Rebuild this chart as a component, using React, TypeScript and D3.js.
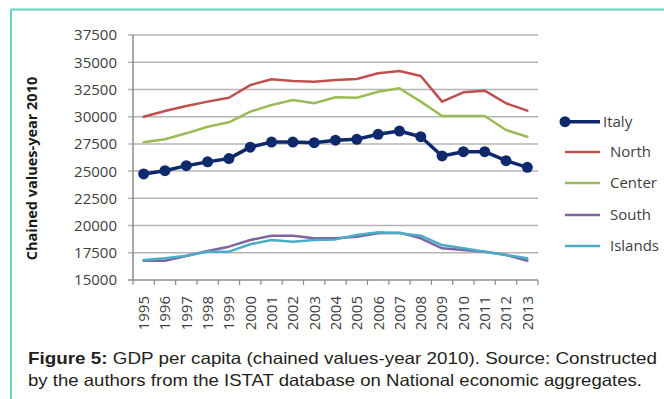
import React from "react";
import * as d3 from "d3";

// GDP per capita, chained values (reference year 2010)
const years = [
  "1995", "1996", "1997", "1998", "1999", "2000", "2001", "2002", "2003", "2004",
  "2005", "2006", "2007", "2008", "2009", "2010", "2011", "2012", "2013",
];
const italy = [24740, 25040, 25500, 25850, 26150, 27200, 27670, 27670, 27610, 27840, 27920, 28380, 28680, 28160, 26390, 26780, 26780, 25960, 25350];
const north = [30000, 30520, 30980, 31380, 31740, 32900, 33430, 33280, 33200, 33370, 33460, 33980, 34190, 33740, 31380, 32240, 32390, 31230, 30550];
const center = [27650, 27920, 28470, 29080, 29480, 30460, 31070, 31530, 31230, 31780, 31740, 32290, 32610, 31380, 30060, 30060, 30060, 28780, 28160];
const south = [16770, 16770, 17200, 17660, 18060, 18670, 19070, 19070, 18830, 18830, 18980, 19290, 19350, 18830, 17910, 17760, 17600, 17300, 16770];
const islands = [16840, 16990, 17230, 17600, 17600, 18280, 18670, 18520, 18670, 18730, 19130, 19380, 19290, 19070, 18210, 17910, 17600, 17300, 16990];
const yTicks = [15000, 17500, 20000, 22500, 25000, 27500, 30000, 32500, 35000, 37500];

const seriesNames = ["Italy", "North", "Center", "South", "Islands"];
const seriesValues = [italy, north, center, south, islands];
const seriesColors = ["#0f2a6c", "#c0504d", "#9bbb59", "#8064a2", "#4bacc6"];

const W = 664;
const H = 399;
const plot = { left: 133, right: 538, top: 35, bottom: 280 };
const tickFont = "'Open Sans', sans-serif";
const captionFont = "'Liberation Sans', Arial, sans-serif";

export default function App() {
  const x = d3.scaleBand<string>().domain(years).range([plot.left, plot.right]).paddingInner(0).paddingOuter(0);
  const y = d3.scaleLinear().domain([15000, 37500]).range([plot.bottom, plot.top]);
  const cx = (i: number) => (x(years[i]) as number) + x.bandwidth() / 2;
  const line = d3
    .line<number>()
    .x((_, i) => cx(i))
    .y((v) => y(v))
    .curve(d3.curveLinear);

  const boundaries = years.map((yr) => x(yr) as number).concat([plot.right]);

  const legendRows = [121.7, 152, 183, 215, 246];
  const legendTextX = [603, 610, 610, 610, 610];

  return (
    <svg
      width={W}
      height={H}
      style={{ position: "absolute", left: 0, top: 0, background: "#ffffff" }}
    >
      {/* frame */}
      <line x1={11} y1={9.5} x2={W} y2={9.5} stroke="#62d2c3" strokeWidth={2} />
      <line x1={11} y1={9.5} x2={11} y2={H} stroke="#62d2c3" strokeWidth={2} />

      {/* gridlines */}
      {yTicks.map((t) => (
        <line
          key={"g" + t}
          x1={plot.left - 5}
          x2={plot.right}
          y1={y(t)}
          y2={y(t)}
          stroke={t === 15000 ? "#8c8c8c" : "#b4b4b4"}
          strokeWidth={1.5}
        />
      ))}
      {/* y axis */}
      <line x1={plot.left} x2={plot.left} y1={plot.top} y2={plot.bottom} stroke="#8c8c8c" strokeWidth={1.5} />
      {yTicks.map((t) => (
        <text
          key={"yl" + t}
          x={117}
          y={y(t)}
          dy="0.36em"
          textAnchor="end"
          fontFamily={tickFont}
          fontSize={15}
          fill="#404040"
        >
          {t}
        </text>
      ))}
      {/* x axis ticks and labels */}
      {boundaries.map((bx, i) => (
        <line key={"xt" + i} x1={bx} x2={bx} y1={plot.bottom} y2={plot.bottom + 5} stroke="#8c8c8c" strokeWidth={1.2} />
      ))}
      {years.map((yr, i) => (
        <text
          key={"xl" + yr}
          transform={`translate(${cx(i)},${296}) rotate(-90)`}
          dy="0.36em"
          textAnchor="end"
          fontFamily={tickFont}
          fontSize={15}
          fill="#404040"
        >
          {yr}
        </text>
      ))}

      {/* axis title */}
      <text
        transform={`translate(32,${168.5}) rotate(-90)`}
        dy="0.36em"
        textAnchor="middle"
        fontFamily={tickFont}
        fontWeight="bold"
        fontSize={14.5}
        fill="#1a1a1a"
      >
        Chained values-year 2010
      </text>

      {/* series */}
      {seriesValues.map((vals, k) => (
        <path
          key={"s" + k}
          d={line(vals) || ""}
          fill="none"
          stroke={seriesColors[k]}
          strokeWidth={k === 0 ? 3.5 : 2.5}
          strokeLinejoin="round"
          strokeLinecap="round"
        />
      ))}
      {italy.map((v, i) => (
        <circle key={"m" + i} cx={cx(i)} cy={y(v)} r={5.5} fill={seriesColors[0]} />
      ))}

      {/* legend */}
      {seriesNames.map((name, k) => (
        <g key={"lg" + name}>
          <line
            x1={565}
            x2={600}
            y1={legendRows[k]}
            y2={legendRows[k]}
            stroke={seriesColors[k]}
            strokeWidth={k === 0 ? 3.5 : 2.5}
          />
          {k === 0 && <circle cx={565} cy={legendRows[k]} r={5.5} fill={seriesColors[0]} />}
          <text
            x={legendTextX[k]}
            y={legendRows[k]}
            dy="0.36em"
            fontFamily={tickFont}
            fontSize={15}
            fill="#404040"
          >
            {name}
          </text>
        </g>
      ))}

      {/* caption */}
      <text
        x={28}
        y={364}
        fontFamily={captionFont}
        fontSize={16.5}
        fill="#231f20"
        textLength={629}
        lengthAdjust="spacingAndGlyphs"
      >
        <tspan fontWeight="bold">Figure 5:</tspan>
        <tspan> GDP per capita (chained values-year 2010). Source: Constructed</tspan>
      </text>
      <text
        x={28}
        y={386}
        fontFamily={captionFont}
        fontSize={16.5}
        fill="#231f20"
        textLength={614}
        lengthAdjust="spacingAndGlyphs"
      >
        by the authors from the ISTAT database on National economic aggregates.
      </text>
    </svg>
  );
}
